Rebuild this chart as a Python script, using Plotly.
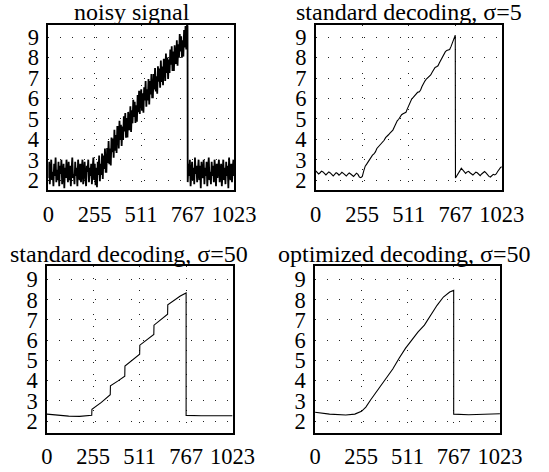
import plotly.graph_objects as go

# ---------------- data ----------------
x_ticks = [0, 255, 511, 767, 1023]
y_ticks = [2, 3, 4, 5, 6, 7, 8, 9]
titles = ["noisy signal", "standard decoding, \u03c3=5",
          "standard decoding, \u03c3=50", "optimized decoding, \u03c3=50"]

# noisy signal, sampled every 4 indices
noisy_pre = [  # x = 0 .. 252
    2.1, 2.9, 1.8, 2.6, 3.0, 2.0, 2.4, 1.7, 2.8, 2.2, 3.1, 1.9, 2.5, 2.0, 2.9, 1.7,
    2.7, 2.3, 3.0, 1.8, 2.2, 2.8, 1.6, 2.6, 2.1, 3.0, 2.4, 1.9, 2.9, 2.0, 2.7, 1.7,
    2.5, 3.1, 2.1, 2.3, 1.8, 2.9, 2.2, 2.6, 1.7, 3.0, 2.4, 2.0, 2.8, 1.9, 2.5, 3.0,
    1.8, 2.3, 2.9, 2.1, 1.7, 2.7, 2.4, 3.0, 1.9, 2.6, 2.2, 2.8, 1.8, 2.5, 3.1, 2.0]
noisy_ramp = [  # x = 256 .. 764
    2.80, 1.75, 2.60, 1.65, 2.90, 2.25, 3.20, 1.95, 2.80, 2.25, 3.30, 2.05, 3.20, 2.55, 3.55, 2.40,
    2.40, 3.57, 2.84, 3.91, 2.78, 3.55, 2.72, 4.09, 3.36, 4.03, 3.10, 4.47, 3.44, 4.21, 3.33, 4.60,
    4.60, 3.55, 4.91, 3.96, 4.71, 3.67, 4.62, 3.97, 5.12, 4.38, 5.28, 4.08, 5.04, 4.09, 5.34, 4.50,
    4.45, 5.61, 4.36, 5.42, 4.78, 5.93, 5.09, 5.84, 4.80, 5.66, 4.86, 6.17, 5.32, 6.38, 5.24, 6.19,
    6.45, 5.40, 6.25, 5.30, 6.55, 5.90, 6.85, 5.60, 6.45, 5.90, 6.95, 5.70, 6.85, 6.20, 7.20, 6.05,
    6.05, 7.20, 6.44, 7.49, 6.34, 7.08, 6.23, 7.58, 6.82, 7.47, 6.52, 7.86, 6.81, 7.56, 6.65, 7.90,
    7.90, 6.85, 8.20, 7.25, 8.00, 6.95, 7.90, 7.25, 8.40, 7.65, 8.55, 7.35, 8.30, 7.35, 8.60, 7.75,
    7.70, 8.85, 7.60, 8.65, 8.00, 9.15, 8.30, 9.05, 8.00, 8.85, 8.05, 9.35, 8.50, 9.55, 8.40, 9.60]
noisy_peak = 9.55  # x = 767
noisy_post = [  # x = 768 .. 1020
    1.9, 2.8, 2.2, 3.0, 1.7, 2.5, 2.9, 2.0, 2.6, 1.8, 3.1, 2.3, 2.7, 1.9, 2.4, 3.0,
    2.0, 2.7, 1.6, 2.9, 2.3, 2.1, 3.0, 1.8, 2.6, 2.2, 2.9, 1.7, 2.5, 3.1, 2.0, 2.4,
    1.8, 2.9, 2.2, 2.7, 1.9, 3.0, 2.4, 1.7, 2.8, 2.1, 2.6, 3.0, 1.9, 2.3, 2.8, 1.7,
    2.5, 3.0, 2.0, 2.6, 1.8, 2.9, 2.2, 2.7, 1.6, 3.1, 2.3, 2.0, 2.8, 1.9, 2.6, 3.0]
noisy_end = 2.2  # x = 1023

# standard decoding sigma=5, sampled every 8 indices
s5_pre = [  # x = 0 .. 248
    2.45, 2.38, 2.30, 2.36, 2.44, 2.40, 2.30, 2.25, 2.33, 2.40, 2.35, 2.26, 2.20, 2.28, 2.36, 2.32,
    2.24, 2.30, 2.38, 2.33, 2.25, 2.20, 2.28, 2.35, 2.30, 2.22, 2.18, 2.26, 2.34, 2.28, 2.15, 2.12]
s5_ramp = [  # x = 256 .. 760
    2.18, 2.45, 2.68, 2.78, 2.90, 2.95, 3.10, 3.22,
    3.28, 3.38, 3.55, 3.62, 3.70, 3.78, 3.86, 3.95,
    4.08, 4.18, 4.22, 4.30, 4.38, 4.45, 4.60, 4.78,
    4.90, 4.98, 5.12, 5.20, 5.25, 5.28, 5.32, 5.50,
    5.68, 5.85, 5.98, 6.05, 6.15, 6.22, 6.30, 6.32,
    6.40, 6.58, 6.75, 6.85, 6.95, 7.02, 7.08, 7.15,
    7.28, 7.42, 7.52, 7.55, 7.60, 7.75, 7.90, 8.02,
    8.15, 8.28, 8.35, 8.38, 8.40, 8.55, 8.75, 8.92]
s5_peak = 9.10  # x = 767
s5_post = [  # x = 768 .. 1016
    2.10, 2.20, 2.32, 2.45, 2.58, 2.50, 2.38, 2.33, 2.40, 2.43, 2.36, 2.28, 2.25, 2.32, 2.39, 2.36,
    2.28, 2.22, 2.30, 2.38, 2.42, 2.35, 2.24, 2.18, 2.15, 2.20, 2.28, 2.25, 2.30, 2.42, 2.55, 2.62]
s5_end = 2.65  # x = 1023

# standard decoding sigma=50
s50_x = [0, 60, 120, 180, 230, 247, 248, 300, 349, 350, 390, 429, 430, 470, 511, 512,
         550, 589, 590, 630, 665, 666, 700, 735, 767, 767, 850, 950, 1023]
s50_y = [2.34, 2.28, 2.24, 2.23, 2.26, 2.28, 2.58, 2.92, 3.30, 3.74, 3.97, 4.22, 4.72, 5.00, 5.30, 5.75,
         6.02, 6.28, 6.74, 7.02, 7.28, 7.75, 7.98, 8.18, 8.33, 2.28, 2.26, 2.24, 2.26]

# optimized decoding sigma=50
opt_x = [0, 80, 170, 220, 257, 281, 308, 334, 360, 395, 430, 465, 500, 535, 570, 605,
         640, 675, 710, 745, 767, 767, 850, 950, 1023]
opt_y = [2.43, 2.34, 2.30, 2.34, 2.48, 2.69, 3.05, 3.38, 3.66, 4.11, 4.57, 5.10, 5.59, 6.00, 6.41, 6.74,
         7.23, 7.72, 8.13, 8.38, 8.46, 2.34, 2.31, 2.32, 2.36]

# ---------------- assemble series ----------------
def join(pre, step_pre, ramp, step_ramp, ramp_start, peak, post, post_start, end):
    xs = [i * step_pre for i in range(len(pre))]
    ys = list(pre)
    xs += [ramp_start + i * step_ramp for i in range(len(ramp))]
    ys += list(ramp)
    xs.append(767); ys.append(peak)
    xs += [post_start + i * step_pre for i in range(len(post))]
    ys += list(post)
    xs.append(1023); ys.append(end)
    return xs, ys

noisy_x, noisy_y = join(noisy_pre, 4, noisy_ramp, 4, 256, noisy_peak, noisy_post, 768, noisy_end)
s5_x, s5_y = join(s5_pre, 8, s5_ramp, 8, 256, s5_peak, s5_post, 768, s5_end)

series = [(noisy_x, noisy_y), (s5_x, s5_y), (s50_x, s50_y), (opt_x, opt_y)]
line_widths = [1.8, 1.1, 1.1, 1.1]

# ---------------- layout ----------------
W, H = 549, 472
# plot boxes in pixels: (left, right, top, bottom)
boxes = [(44.7, 240.7, 24.7, 191.3), (327.0, 523.5, 24.7, 191.3),
         (43.2, 239.2, 268.0, 435.3), (326.3, 521.5, 268.0, 435.3)]
yranges = [[1.51, 9.62], [1.51, 9.62], [1.43, 9.65], [1.43, 9.65]]
title_cx = [132.8, 426.0, 130.0, 420.5]
title_cy = [12.5, 12.5, 255.5, 255.5]

FONT = "Liberation Serif, Times New Roman, serif"
fig = go.Figure()
annotations = []
for i, ((xs, ys), (l, r, t, b)) in enumerate(zip(series, boxes)):
    n = "" if i == 0 else str(i + 1)
    fig.add_trace(go.Scatter(x=xs, y=ys, mode="lines",
                             line=dict(color="black", width=line_widths[i]),
                             xaxis="x" + n, yaxis="y" + n, showlegend=False,
                             hoverinfo="skip"))
    common = dict(showline=True, linecolor="black", linewidth=1.5, mirror=True,
                  showgrid=True, gridcolor="#222", gridwidth=1, griddash="1px,11px",
                  zeroline=False, ticks="", fixedrange=True,
                  tickfont=dict(family=FONT, size=22.5, color="black"))
    fig.layout["xaxis" + n] = dict(common, domain=[l / W, r / W], range=[0, 1023],
                                   tickvals=x_ticks, ticktext=[str(v) for v in x_ticks],
                                   anchor="y" + n, ticklabelstandoff=3)
    fig.layout["yaxis" + n] = dict(common, domain=[1 - b / H, 1 - t / H], range=yranges[i],
                                   tickvals=y_ticks, anchor="x" + n, ticklabelstandoff=3)
    annotations.append(dict(text=titles[i], x=title_cx[i] / W, y=1 - title_cy[i] / H,
                            xref="paper", yref="paper", xanchor="center", yanchor="middle",
                            showarrow=False, font=dict(family=FONT, size=24, color="black")))

fig.update_layout(width=W, height=H, margin=dict(l=0, r=0, t=0, b=0),
                  paper_bgcolor="white", plot_bgcolor="white",
                  annotations=annotations)
fig.write_html("out.html")
